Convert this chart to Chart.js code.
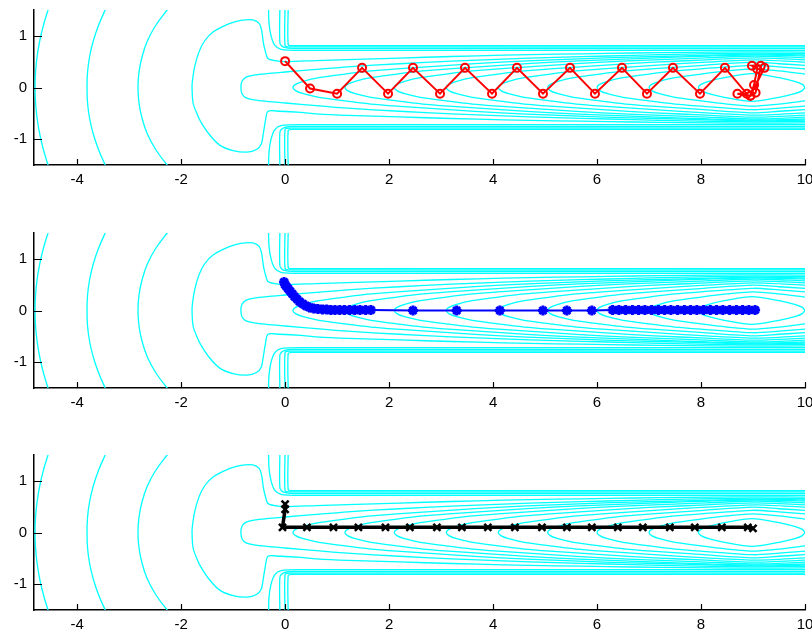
<!DOCTYPE html>
<html>
<head>
<meta charset="utf-8">
<script src="https://cdn.jsdelivr.net/npm/chart.js@4.4.1/dist/chart.umd.min.js"></script>
<style>
    html, body { margin: 0; padding: 0; background: #fff; }
    body { width: 812px; height: 635px; overflow: hidden; position: relative; }
    canvas { position: absolute; left: 0; }
</style>
</head>
<body>
<canvas id="panel_top" width="830" height="200" style="top:0px"></canvas>
<canvas id="panel_mid" width="830" height="200" style="top:223px"></canvas>
<canvas id="panel_bot" width="830" height="200" style="top:445px"></canvas>
<script>
// axis ticks
const xTicks = [-4, -2, 0, 2, 4, 6, 8, 10];
const yTicks = [-1, 0, 1];

// contour lines, upper halves as [x, y] (mirrored below the centre line)
const arc1 = [[-4.81, 0], [-4.8, 0.3], [-4.77, 0.6], [-4.72, 0.9], [-4.65, 1.2], [-4.56, 1.5], [-4.525, 1.6]];
const arc2 = [[-3.81, 0], [-3.8, 0.3], [-3.76, 0.6], [-3.69, 0.9], [-3.59, 1.2], [-3.46, 1.5], [-3.41, 1.6]];
const arc3 = [[-2.83, 0], [-2.81, 0.3], [-2.75, 0.6], [-2.65, 0.9], [-2.49, 1.2], [-2.27, 1.5], [-2.18, 1.6]];
const stem = [[-0.85, 0], [-0.83, 0.12], [-0.75, 0.2], [-0.6, 0.24], [-0.35, 0.27], [0, 0.3], [0.6, 0.35], [1.2, 0.4], [2.2, 0.46], [3.2, 0.51], [4.2, 0.55], [5.2, 0.585], [6.2, 0.61], [7.2, 0.635], [8.2, 0.655], [9.05, 0.665], [10, 0.655]];
const lens9 = [[0.15, 0], [0.2, 0.06], [0.35, 0.12], [0.65, 0.19], [1.15, 0.26], [1.65, 0.32], [2.15, 0.36], [3.15, 0.43], [4.15, 0.49], [5.15, 0.535], [6.15, 0.575], [7.15, 0.6], [8.15, 0.625], [9.05, 0.645], [10, 0.63]];
const lens8 = [[1.15, 0], [1.2, 0.06], [1.35, 0.12], [1.65, 0.19], [2.15, 0.26], [2.65, 0.32], [3.15, 0.36], [4.15, 0.43], [5.15, 0.49], [6.15, 0.535], [7.15, 0.575], [8.15, 0.61], [9.05, 0.63], [10, 0.61]];
const lens7 = [[2.1, 0], [2.15, 0.06], [2.3, 0.12], [2.6, 0.19], [3.1, 0.26], [3.6, 0.32], [4.1, 0.36], [5.1, 0.43], [6.1, 0.49], [7.1, 0.535], [8.1, 0.575], [9.05, 0.61], [10, 0.575]];
const lens6 = [[3.1, 0], [3.15, 0.06], [3.3, 0.12], [3.6, 0.19], [4.1, 0.26], [4.6, 0.32], [5.1, 0.36], [6.1, 0.43], [7.1, 0.49], [8.1, 0.535], [9.05, 0.575], [10, 0.535]];
const lens5 = [[4.1, 0], [4.15, 0.06], [4.3, 0.12], [4.6, 0.19], [5.1, 0.26], [5.6, 0.32], [6.1, 0.36], [7.1, 0.43], [8.1, 0.49], [9.05, 0.535], [10, 0.49]];
const lens4 = [[5.05, 0], [5.1, 0.06], [5.25, 0.12], [5.55, 0.19], [6.05, 0.26], [6.55, 0.32], [7.05, 0.36], [8.05, 0.43], [9, 0.49], [9.5, 0.46], [10, 0.43]];
const lens3 = [[6, 0], [6.05, 0.06], [6.2, 0.12], [6.5, 0.19], [7, 0.26], [7.5, 0.32], [8, 0.36], [9, 0.43], [9.5, 0.4], [10, 0.36]];
const lens2 = [[7, 0], [7.05, 0.06], [7.2, 0.12], [7.5, 0.19], [8, 0.26], [8.5, 0.32], [9, 0.36], [9.5, 0.32], [10, 0.26]];
const lens1 = [[7.95, 0], [8.0, 0.06], [8.15, 0.12], [8.45, 0.19], [8.98, 0.27], [9.5, 0.19], [9.8, 0.12], [9.95, 0.06], [10, 0]];

// wall contours near the channel mouth (upper side, lower side is mirrored)
const wall1 = [[-0.32, 1.6], [-0.31, 1.25], [-0.27, 1.0], [-0.2, 0.82], [-0.08, 0.74], [0.3, 0.72], [10, 0.72]];
const wall2 = [[-0.1, 1.6], [-0.1, 0.86], [-0.03, 0.78], [0.2, 0.755], [10, 0.755]];
const wall3 = [[0, 1.6], [0, 0.81], [0.1, 0.785], [10, 0.785]];
const wall4 = [[0.06, 1.6], [0.06, 0.83], [0.15, 0.81], [10, 0.81]];

// the mushroom shaped contour, full loop
const mushroom = [[10, 0.685], [9.05, 0.69], [8.2, 0.685], [7.2, 0.675], [6.2, 0.66], [5.2, 0.645], [4.2, 0.625], [3.2, 0.6], [2.2, 0.57], [1.2, 0.54], [0.6, 0.52], [0, 0.5], [-0.2, 0.52], [-0.33, 0.56], [-0.38, 0.7], [-0.42, 0.88], [-0.45, 1.1], [-0.5, 1.24], [-0.62, 1.31], [-0.85, 1.3], [-1.06, 1.24], [-1.38, 1.08], [-1.55, 0.9], [-1.66, 0.68], [-1.74, 0.4], [-1.78, 0.15], [-1.79, 0], [-1.77, -0.3], [-1.7, -0.5], [-1.63, -0.65], [-1.45, -0.92], [-1.25, -1.12], [-1.0, -1.22], [-0.73, -1.25], [-0.55, -1.2], [-0.46, -1.1], [-0.42, -0.9], [-0.38, -0.65], [-0.33, -0.46], [-0.1, -0.46], [0.3, -0.48], [0.6, -0.51], [1.2, -0.54], [2.2, -0.57], [3.2, -0.6], [4.2, -0.625], [5.2, -0.645], [6.2, -0.66], [7.2, -0.675], [8.2, -0.685], [9.05, -0.69], [10, -0.685]];

// trajectories
const redX = [0, 0.48, 1.0, 1.48, 1.98, 2.46, 2.98, 3.46, 3.98, 4.46, 4.96, 5.48, 5.96, 6.48, 6.96, 7.46, 7.98, 8.46, 8.88, 8.7, 8.95, 9.02, 9.08, 8.98, 9.15, 9.05, 8.95, 9.22];
const redY = [0.51, -0.02, -0.12, 0.38, -0.12, 0.38, -0.12, 0.38, -0.12, 0.38, -0.12, 0.38, -0.12, 0.38, -0.12, 0.38, -0.12, 0.38, -0.12, -0.12, -0.16, 0.05, 0.36, 0.42, 0.42, -0.1, -0.16, 0.38];

const blueX = [-0.02, 0.0, 0.03, 0.06, 0.1, 0.14, 0.18, 0.23, 0.28, 0.34, 0.4, 0.47, 0.55, 0.63, 0.72, 0.8, 0.88, 0.96, 1.05, 1.14, 1.24, 1.34, 1.44, 1.55, 1.65, 2.46, 3.3, 4.13, 4.96, 5.42, 5.9, 6.3, 6.42, 6.55, 6.68, 6.8, 6.92, 7.05, 7.18, 7.3, 7.42, 7.55, 7.68, 7.8, 7.92, 8.05, 8.18, 8.3, 8.42, 8.55, 8.68, 8.8, 8.92, 9.04];
const blueY = [0.55, 0.5, 0.46, 0.42, 0.37, 0.32, 0.27, 0.22, 0.17, 0.13, 0.09, 0.06, 0.04, 0.03, 0.02, 0.02, 0.01, 0.01, 0.01, 0.01, 0.01, 0.01, 0.01, 0.01, 0.01, 0.0, 0.0, 0.0, 0.0, 0.0, 0.0, 0.01, 0.01, 0.01, 0.01, 0.01, 0.01, 0.01, 0.01, 0.01, 0.01, 0.01, 0.01, 0.01, 0.01, 0.01, 0.01, 0.01, 0.01, 0.01, 0.01, 0.01, 0.01, 0.01];

const blackX = [0, 0, -0.05, 0.42, 0.93, 1.41, 1.93, 2.4, 2.92, 3.4, 3.9, 4.42, 4.94, 5.42, 5.9, 6.4, 6.88, 7.4, 7.88, 8.4, 8.9, 9.0];
const blackY = [0.55, 0.45, 0.1, 0.1, 0.1, 0.1, 0.1, 0.1, 0.1, 0.1, 0.1, 0.1, 0.1, 0.1, 0.1, 0.1, 0.1, 0.1, 0.1, 0.1, 0.1, 0.08];

const CYAN = "#00ffff";
const TICK_FONT = { family: "'Liberation Sans', Arial, Helvetica, sans-serif", size: 15 };

function mirrorClosed(upper) {
    const lower = upper.slice().reverse().map((p) => [p[0], -p[1]]);
    return lower.concat(upper.slice(1));
}

function flipY(points) {
    return points.map((p) => [p[0], -p[1]]);
}

function toXY(points) {
    return points.map((p) => ({ x: p[0], y: p[1] }));
}

function zip(xs, ys) {
    return xs.map((x, i) => ({ x: x, y: ys[i] }));
}

function contourDatasets() {
    const closed = [arc1, arc2, arc3, stem, lens9, lens8, lens7, lens6, lens5, lens4, lens3, lens2, lens1].map(mirrorClosed);
    const walls = [wall1, wall2, wall3, wall4];
    const lines = closed.concat(walls, walls.map(flipY), [mushroom]);
    return lines.map((pts, i) => ({
        data: toXY(pts),
        showLine: true,
        borderColor: CYAN,
        borderWidth: 1.3,
        pointRadius: 0,
        tension: i < 3 ? 0.4 : 0.25,
        order: 2,
    }));
}

// MATLAB style ticks pointing into the plot
const innerTicks = {
    id: "innerTicks",
    afterDraw(chart) {
        const { ctx, chartArea: area, scales } = chart;
        ctx.save();
        ctx.strokeStyle = "#000";
        ctx.lineWidth = 1.2;
        ctx.beginPath();
        xTicks.forEach((v) => {
            const px = Math.round(scales.x.getPixelForValue(v)) + 0.5;
            ctx.moveTo(px, area.bottom);
            ctx.lineTo(px, area.bottom - 6);
        });
        yTicks.forEach((v) => {
            const py = Math.round(scales.y.getPixelForValue(v)) + 0.5;
            ctx.moveTo(area.left, py);
            ctx.lineTo(area.left + 8, py);
        });
        ctx.stroke();
        ctx.restore();
    },
};

function makePanel(canvasId, pathSet) {
    const ctx = document.getElementById(canvasId);
    return new Chart(ctx, {
        type: "scatter",
        data: { datasets: [pathSet].concat(contourDatasets()) },
        options: {
            responsive: false,
            animation: false,
            devicePixelRatio: 1,
            events: [],
            layout: { padding: { top: 10, right: 25, bottom: 5, left: 0 } },
            plugins: { legend: { display: false }, tooltip: { enabled: false } },
            scales: {
                x: {
                    type: "linear",
                    min: -4.83,
                    max: 10,
                    grid: { display: false, drawTicks: false },
                    border: { display: true, color: "#000", width: 1.5 },
                    ticks: { color: "#000", font: TICK_FONT, padding: 6, maxRotation: 0 },
                    afterBuildTicks: (scale) => { scale.ticks = xTicks.map((v) => ({ value: v })); },
                    afterFit: (scale) => {
                        scale.height = 30;
                        scale.paddingLeft = 0;
                        scale.paddingRight = 0;
                    },
                },
                y: {
                    type: "linear",
                    min: -1.5,
                    max: 1.5,
                    grid: { display: false, drawTicks: false },
                    border: { display: true, color: "#000", width: 1.5 },
                    ticks: { color: "#000", font: TICK_FONT, padding: 7 },
                    afterBuildTicks: (scale) => { scale.ticks = yTicks.map((v) => ({ value: v })); },
                    afterFit: (scale) => {
                        scale.width = 34;
                        scale.paddingTop = 0;
                        scale.paddingBottom = 0;
                    },
                },
            },
        },
        plugins: [innerTicks],
    });
}

makePanel("panel_top", {
    data: zip(redX, redY),
    showLine: true,
    borderColor: "#ff0000",
    borderWidth: 2,
    pointStyle: "circle",
    pointRadius: 4,
    pointBorderWidth: 2,
    pointBorderColor: "#ff0000",
    pointBackgroundColor: "rgba(0,0,0,0)",
    order: 0,
});

makePanel("panel_mid", {
    data: zip(blueX, blueY),
    showLine: true,
    borderColor: "#0000ff",
    borderWidth: 2,
    pointStyle: "star",
    pointRadius: 5,
    pointBorderWidth: 3,
    pointBorderColor: "#0000ff",
    pointBackgroundColor: "#0000ff",
    order: 0,
});

makePanel("panel_bot", {
    data: zip(blackX, blackY),
    showLine: true,
    borderColor: "#000000",
    borderWidth: 3.5,
    pointStyle: "crossRot",
    pointRadius: 5,
    pointBorderWidth: 2.5,
    pointBorderColor: "#000000",
    order: 0,
});
</script>
</body>
</html>
